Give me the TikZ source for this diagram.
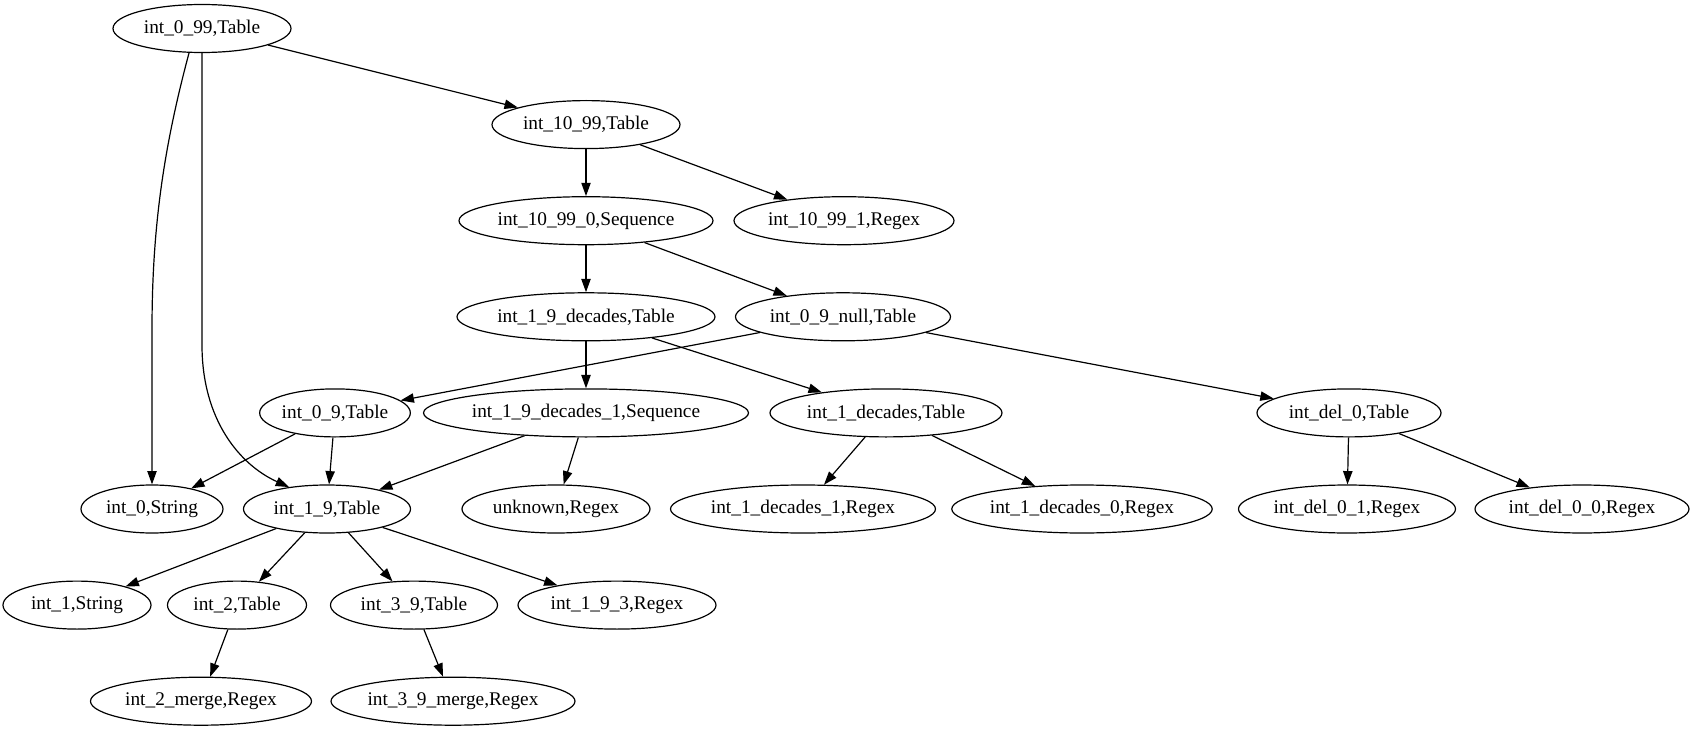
\documentclass[tikz,border=0pt]{standalone}
\usepackage{fontspec}
\setmainfont{Liberation Serif}
\usepackage{tikz}
\usetikzlibrary{arrows.meta, shapes.geometric}

\begin{document}
\begin{tikzpicture}[
    x=0.75pt, y=-0.75pt,
    font=\fontsize{14.5pt}{16pt}\selectfont,
    oval/.style={ellipse, draw, line width=0.9pt, inner sep=0pt,
        minimum height=36pt, minimum width=#1*0.75pt},
    arrow/.style={-{Triangle[length=10pt, width=7pt]}, line width=0.9pt}
]
\useasboundingbox (0,0) rectangle (1696,731);

% Top of the tree
\node[oval=178] (i099) at (202,28.5) {int\_0\_99,Table};
\node[oval=188] (i1099) at (586,124.6) {int\_10\_99,Table};
\node[oval=254] (i10990) at (586,220.7) {int\_10\_99\_0,Sequence};
\node[oval=220] (i10991) at (844,220.7) {int\_10\_99\_1,Regex};
\node[oval=258] (i19dec) at (586,316.8) {int\_1\_9\_decades,Table};
\node[oval=215] (i09null) at (843,316.8) {int\_0\_9\_null,Table};

% Middle rows
\node[oval=138] (i09) at (335,412.9) {int\_0\_9,Table};
\node[oval=325] (i19dec1) at (586,412.9) {int\_1\_9\_decades\_1,Sequence};
\node[oval=232] (i1dec) at (886,412.9) {int\_1\_decades,Table};
\node[oval=184] (idel0) at (1349,412.9) {int\_del\_0,Table};
\node[oval=142] (i0str) at (152,509) {int\_0,String};
\node[oval=167] (i19) at (327,509) {int\_1\_9,Table};
\node[oval=188] (unknown) at (556,509) {unknown,Regex};
\node[oval=265] (i1dec1) at (803,509) {int\_1\_decades\_1,Regex};
\node[oval=254] (i1dec0) at (1082,509) {int\_1\_decades\_0,Regex};
\node[oval=217] (idel01) at (1347,509) {int\_del\_0\_1,Regex};
\node[oval=214] (idel00) at (1582,509) {int\_del\_0\_0,Regex};

% Bottom rows
\node[oval=148] (i1str) at (77,605.1) {int\_1,String};
\node[oval=139] (i2) at (237,605.1) {int\_2,Table};
\node[oval=167] (i39) at (414,605.1) {int\_3\_9,Table};
\node[oval=198] (i193) at (617,605.1) {int\_1\_9\_3,Regex};
\node[oval=221] (i2merge) at (201,701.2) {int\_2\_merge,Regex};
\node[oval=244] (i39merge) at (453,701.2) {int\_3\_9\_merge,Regex};

% Edges from the root
\draw[arrow] (i099) -- (i1099);
\draw[arrow] (i099.242) .. controls (163,150) and (152,230) .. (152,330) -- (i0str);
\draw[arrow] (i099.south) -- (202,345) .. controls (202,420) and (240,465) .. (i19.150);

\draw[arrow] (i1099) -- (i10990);
\draw[arrow] (i1099) -- (i10991);
\draw[arrow] (i10990) -- (i19dec);
\draw[arrow] (i10990) -- (i09null);
\draw[arrow] (i19dec) -- (i19dec1);
\draw[arrow] (i19dec) -- (i1dec);
\draw[arrow] (i09null) -- (i09);
\draw[arrow] (i09null) -- (idel0);

\draw[arrow] (i09) -- (i0str);
\draw[arrow] (i09) -- (i19);
\draw[arrow] (i19dec1) -- (i19);
\draw[arrow] (i19dec1) -- (unknown);
\draw[arrow] (i1dec) -- (i1dec1);
\draw[arrow] (i1dec) -- (i1dec0);
\draw[arrow] (idel0) -- (idel01);
\draw[arrow] (idel0) -- (idel00);

\draw[arrow] (i19) -- (i1str);
\draw[arrow] (i19) -- (i2);
\draw[arrow] (i19) -- (i39);
\draw[arrow] (i19) -- (i193);
\draw[arrow] (i2) -- (i2merge);
\draw[arrow] (i39) -- (i39merge);

\end{tikzpicture}
\end{document}
